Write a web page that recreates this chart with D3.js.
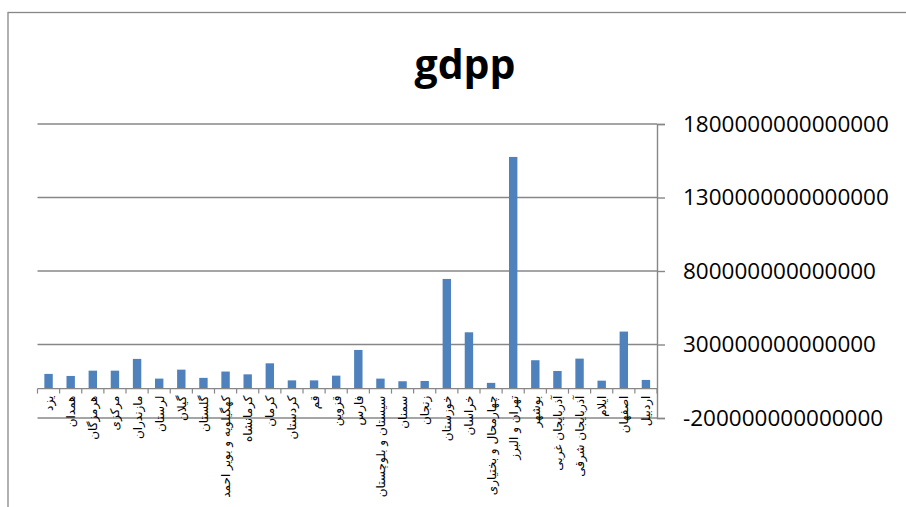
<!DOCTYPE html>
<html>
<head>
<meta charset="utf-8">
<script src="https://cdn.jsdelivr.net/npm/d3@7"></script>
<style>
  body { margin: 0; background: #fff; }
  svg { display: block; }
</style>
</head>
<body>
<svg id="chart" width="906" height="507"></svg>
<script>
// chart data
const categories = [
    "یزد", "همدان", "هرمزگان", "مرکزی", "مازندران", "لرستان", "گیلان", "گلستان",
    "کهگیلویه و بویر احمد", "کرمانشاه", "کرمان", "کردستان", "قم", "قزوین", "فارس",
    "سیستان و بلوچستان", "سمنان", "زنجان", "خوزستان", "خراسان", "چهارمحال و بختیاری",
    "تهران و البرز", "بوشهر", "آذربایجان غربی", "آذربایجان شرقی", "ایلام", "اصفهان", "اردبیل"
];
const gdppValues = [
    1.00e14, 8.6e13, 1.22e14, 1.22e14, 2.02e14, 6.8e13, 1.29e14, 7.3e13,
    1.16e14, 9.7e13, 1.72e14, 5.6e13, 5.6e13, 8.8e13, 2.63e14,
    6.8e13, 5.0e13, 5.2e13, 7.46e14, 3.83e14, 3.9e13,
    1.576e15, 1.93e14, 1.20e14, 2.04e14, 5.4e13, 3.88e14, 5.9e13
];
const yTicks = [-2e14, 3e14, 8e14, 1.3e15, 1.8e15];
const chartTitle = "gdpp";

const svg = d3.select("#chart");
const gridColor = "#878787";

// outer frame (cut off at right and bottom like the screenshot)
svg.append("rect")
    .attr("x", 8).attr("y", 12.5)
    .attr("width", 960).attr("height", 600)
    .attr("fill", "none")
    .attr("stroke", gridColor)
    .attr("stroke-width", 1.3);

// plot area
const plotLeft = 37.5, plotRight = 657, plotTop = 124, plotBottom = 418;

const x = d3.scaleBand()
    .domain(categories)
    .range([plotLeft, plotRight])
    .paddingInner(0.62)
    .paddingOuter(0.31);

const y = d3.scaleLinear()
    .domain([-2e14, 1.8e15])
    .range([plotBottom, plotTop]);

// gridlines + right axis
const yAxis = d3.axisRight(y)
    .tickValues(yTicks)
    .tickSize(8)
    .tickFormat(d => d.toFixed(0));

svg.append("g")
    .selectAll("line")
    .data(yTicks)
    .join("line")
    .attr("x1", plotLeft).attr("x2", plotRight)
    .attr("y1", d => y(d)).attr("y2", d => y(d))
    .attr("stroke", gridColor)
    .attr("stroke-width", 1.4);

const yg = svg.append("g")
    .attr("transform", `translate(${plotRight},0)`)
    .call(yAxis);
yg.select(".domain").attr("stroke", gridColor).attr("stroke-width", 1.4);
yg.selectAll(".tick line").attr("stroke", gridColor).attr("stroke-width", 1.4);
yg.selectAll(".tick text")
    .attr("x", 26)
    .attr("fill", "#000")
    .style("font-family", "'Open Sans', 'Liberation Sans', sans-serif")
    .style("font-size", "22.5px");

// bars
svg.append("g")
    .selectAll("rect")
    .data(categories)
    .join("rect")
    .attr("x", d => x(d))
    .attr("width", x.bandwidth())
    .attr("y", (d, i) => y(Math.max(0, gdppValues[i])))
    .attr("height", (d, i) => Math.abs(y(gdppValues[i]) - y(0)))
    .attr("fill", "#4F81BD");

// category axis at zero
const zeroY = y(0);
svg.append("line")
    .attr("x1", plotLeft).attr("x2", plotRight)
    .attr("y1", zeroY).attr("y2", zeroY)
    .attr("stroke", gridColor)
    .attr("stroke-width", 1.4);

const step = x.step();
const bounds = categories.map(c => x(c) + x.bandwidth() / 2 - step / 2);
bounds.push(plotRight);
svg.append("g")
    .selectAll("line")
    .data(bounds)
    .join("line")
    .attr("x1", d => d).attr("x2", d => d)
    .attr("y1", zeroY).attr("y2", zeroY + 5)
    .attr("stroke", gridColor)
    .attr("stroke-width", 1.2);

// rotated persian labels
svg.append("g")
    .selectAll("text")
    .data(categories)
    .join("text")
    .attr("transform", d => `translate(${x(d) + x.bandwidth() / 2 + 4.5},${zeroY + 7}) rotate(-90)`)
    .attr("text-anchor", "end")
    .style("font-family", "'DejaVu Sans', sans-serif")
    .style("font-size", "12px")
    .attr("fill", "#000")
    .text(d => d);

// title
svg.append("text")
    .attr("x", 465)
    .attr("y", 79)
    .attr("text-anchor", "middle")
    .style("font-family", "'Open Sans', 'Liberation Sans', sans-serif")
    .style("font-weight", "bold")
    .style("font-size", "41px")
    .attr("fill", "#000")
    .text(chartTitle);
</script>
</body>
</html>
